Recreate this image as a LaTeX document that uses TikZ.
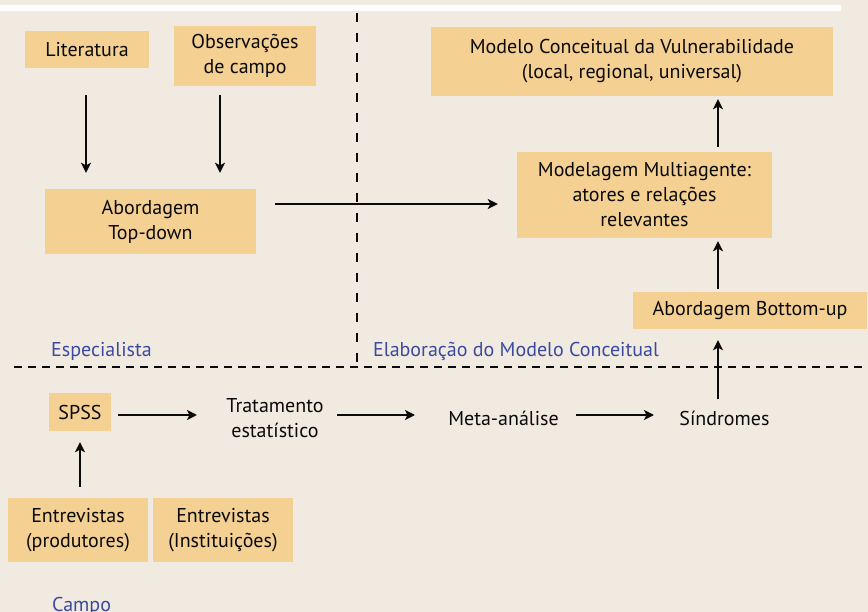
\documentclass[tikz,border=0pt]{standalone}
\usepackage{fontspec}
\setmainfont{PT Sans}
\usetikzlibrary{arrows.meta}
\definecolor{bg}{HTML}{F1EAE0}
\definecolor{boxfill}{HTML}{F4D092}
\definecolor{lblue}{HTML}{3A4A9E}
\definecolor{ink}{HTML}{0A0A0A}
\begin{document}
\begin{tikzpicture}[x=1pt,y=-1pt,
  font=\fontsize{20}{25}\selectfont,
  box/.style={fill=boxfill, draw=none, align=center, inner sep=0pt, text=ink},
  txt/.style={align=center, inner sep=0pt, text=ink},
  lbl/.style={text=lblue, anchor=base west, inner sep=0pt},
  arr/.style={-{Stealth[length=10pt,width=10pt,inset=2.5pt]}, line width=2.4pt, draw=ink},
  vsep/.style={line width=2.7pt, dash pattern=on 9.5pt off 10.5pt, draw=ink},
  hsep/.style={line width=2.7pt, dash pattern=on 8pt off 6pt, draw=ink}]
\fill[bg] (0,0) rectangle (868,612);
\useasboundingbox (0,0) rectangle (868,612);
\fill[white] (0,5) rectangle (841,10.7);

% boxes
\node[box, minimum width=124pt, minimum height=37pt] (lit) at (87,49.5) {Literatura};
\node[box, minimum width=142pt, minimum height=60pt] (obs) at (245,56) {Observações\\de campo};
\node[box, minimum width=402pt, minimum height=69pt] (top) at (632,61.5) {Modelo Conceitual da Vulnerabilidade\\(local, regional, universal)};
\node[box, minimum width=211pt, minimum height=65pt] (abord) at (150.5,221.5) {Abordagem\\Top-down};
\node[box, minimum width=255pt, minimum height=86pt] (multi) at (644.5,195) {Modelagem Multiagente:\\atores e relações\\relevantes};
\node[box, minimum width=234pt, minimum height=37pt] (bottom) at (750,310.5) {Abordagem Bottom-up};
\node[box, minimum width=62pt, minimum height=38pt] (spss) at (80,412) {SPSS};
\node[box, minimum width=140pt, minimum height=64pt] (ent1) at (78,530) {Entrevistas\\(produtores)};
\node[box, minimum width=140pt, minimum height=64pt] (ent2) at (223,530) {Entrevistas\\(Instituições)};

% plain texts
\node[txt] (trat) at (275,418) {Tratamento\\estatístico};
\node[txt] (meta) at (503.5,418) {Meta-análise};
\node[txt] (sind) at (724.5,418) {Síndromes};

% labels
\node[lbl] (esp) at (51,357) {Especialista};
\node[lbl] (elab) at (373,357) {Elaboração do Modelo Conceitual};
\node[lbl] (campo) at (52,611) {Campo};

% separators
\coordinate (vs1) at (357,13);
\coordinate (vs2) at (357,367);
\coordinate (hs1) at (14,367);
\coordinate (hs2) at (868,367);
\draw[vsep] (vs1) -- (vs2);
\draw[hsep] (hs1) -- (hs2);

% arrows
\path ([xshift=-1pt]lit.south) coordinate (l1);
\draw[arr, shorten <=27pt, shorten >=16pt] (l1) -- (l1 |- abord.north);
\path ([xshift=-25pt]obs.south) coordinate (o1);
\draw[arr, shorten <=9pt, shorten >=16pt] (o1) -- (o1 |- abord.north);
\path ([yshift=17.5pt]abord.east) coordinate (a1);
\draw[arr, shorten <=19pt, shorten >=19pt] (a1) -- (a1 -| multi.west);
\path ([xshift=73.5pt]multi.north) coordinate (m1);
\draw[arr, shorten <=5pt, shorten >=3pt] (m1) -- (m1 |- top.south);
\path ([xshift=73.5pt]multi.south) coordinate (m2);
\draw[arr, shorten <=3pt, shorten >=3pt] (m2 |- bottom.north) -- (m2);
\draw[arr, shorten >=11pt] (sind.north -| m2) ++(0,-11) -- (m2 |- bottom.south);
\draw[arr] ([xshift=7pt,yshift=-3pt]spss.east) -- ([xshift=-78pt,yshift=3pt]trat.center);
\draw[arr] ([xshift=62pt,yshift=3pt]trat.center) -- ([xshift=-88.5pt,yshift=3pt]meta.center);
\draw[arr] ([xshift=72.5pt,yshift=3pt]meta.center) -- ([xshift=-70.5pt,yshift=3pt]sind.center);
\path ([xshift=2pt]ent1.north) coordinate (e1);
\draw[arr, shorten <=11pt, shorten >=11pt] (e1) -- (e1 |- spss.south);
\end{tikzpicture}
\end{document}
